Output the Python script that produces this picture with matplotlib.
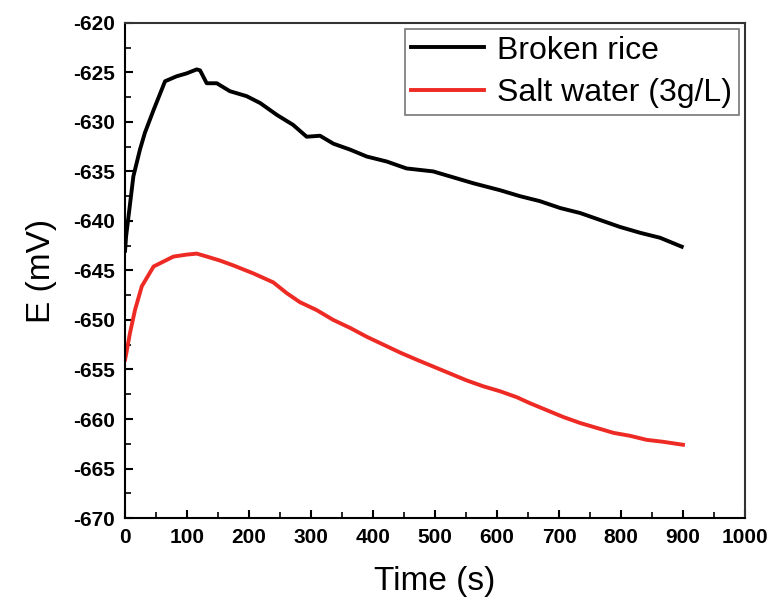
import matplotlib
matplotlib.use("Agg")
import matplotlib.pyplot as plt
from matplotlib.ticker import MultipleLocator

# values
rice_t = [0, 1.6, 13.4, 24, 32, 46, 64.5, 83, 99.5, 115.6, 121, 131.7, 148, 169, 196,
          218, 245, 271, 293, 314.5, 336, 363, 390, 422, 454, 497, 524, 562, 605, 637,
          669, 702, 734, 766, 798, 831, 863, 898]
rice_e = [-643.0, -641.6, -635.5, -632.8, -631.1, -628.8, -625.9, -625.4, -625.1, -624.7,
          -624.8, -626.1, -626.1, -626.9, -627.4, -628.1, -629.3, -630.3, -631.5, -631.4,
          -632.2, -632.8, -633.5, -634.0, -634.7, -635.0, -635.5, -636.2, -636.9, -637.5,
          -638.0, -638.7, -639.2, -639.9, -640.6, -641.2, -641.7, -642.6]

salt_t = [0, 1.6, 8, 16, 27, 46, 62, 78, 99.5, 115.6, 132, 153, 175, 207, 239, 261, 282,
          309, 336, 363, 390, 417, 444, 470, 497, 524, 551, 578, 605, 632, 653, 680, 707,
          734, 761, 788, 815, 841, 868, 900]
salt_e = [-654.0, -653.5, -651.3, -649.0, -646.6, -644.6, -644.1, -643.6, -643.4, -643.3,
          -643.6, -644.0, -644.5, -645.3, -646.2, -647.3, -648.2, -649.0, -650.0, -650.8,
          -651.7, -652.5, -653.3, -654.0, -654.7, -655.4, -656.1, -656.7, -657.2, -657.8,
          -658.4, -659.1, -659.8, -660.4, -660.9, -661.4, -661.7, -662.1, -662.3, -662.6]

series_names = ["Broken rice", "Salt water (3g/L)"]

plt.rcParams['font.family'] = ['Liberation Sans', 'DejaVu Sans']
plt.rcParams['axes.unicode_minus'] = False

fig = plt.figure(figsize=(7.72, 6.01), dpi=100)
ax = fig.add_axes([0.162, 0.138, 0.803, 0.824])

ax.plot(rice_t, rice_e, color='black', lw=2.8, label=series_names[0])
ax.plot(salt_t, salt_e, color='#ee2a24', lw=2.8, label=series_names[1])

ax.set_xlim(0, 1000)
ax.set_ylim(-670, -620)
ax.xaxis.set_major_locator(MultipleLocator(100))
ax.xaxis.set_minor_locator(MultipleLocator(50))
ax.yaxis.set_major_locator(MultipleLocator(5))
ax.yaxis.set_minor_locator(MultipleLocator(2.5))

ax.tick_params(which='major', direction='in', length=6, width=1.5, labelsize=15, pad=7)
ax.tick_params(which='minor', direction='in', length=4, width=1.2)
for lbl in ax.get_xticklabels() + ax.get_yticklabels():
    lbl.set_fontweight('bold')

for s in ax.spines.values():
    s.set_linewidth(1.5)
ax.spines['top'].set_color('#333333')
ax.spines['right'].set_color('#333333')

ax.set_xlabel('Time (s)', fontsize=24, labelpad=14)
ax.set_ylabel('E (mV)', fontsize=24, labelpad=12)

leg = ax.legend(loc='upper right', fontsize=23, frameon=True, fancybox=False,
                handlelength=2.3, handletextpad=0.4, borderpad=0.2,
                labelspacing=0.4, borderaxespad=0.2)
leg.get_frame().set_edgecolor('#555555')
leg.get_frame().set_linewidth(1.2)

fig.savefig('out.png', dpi=100)
